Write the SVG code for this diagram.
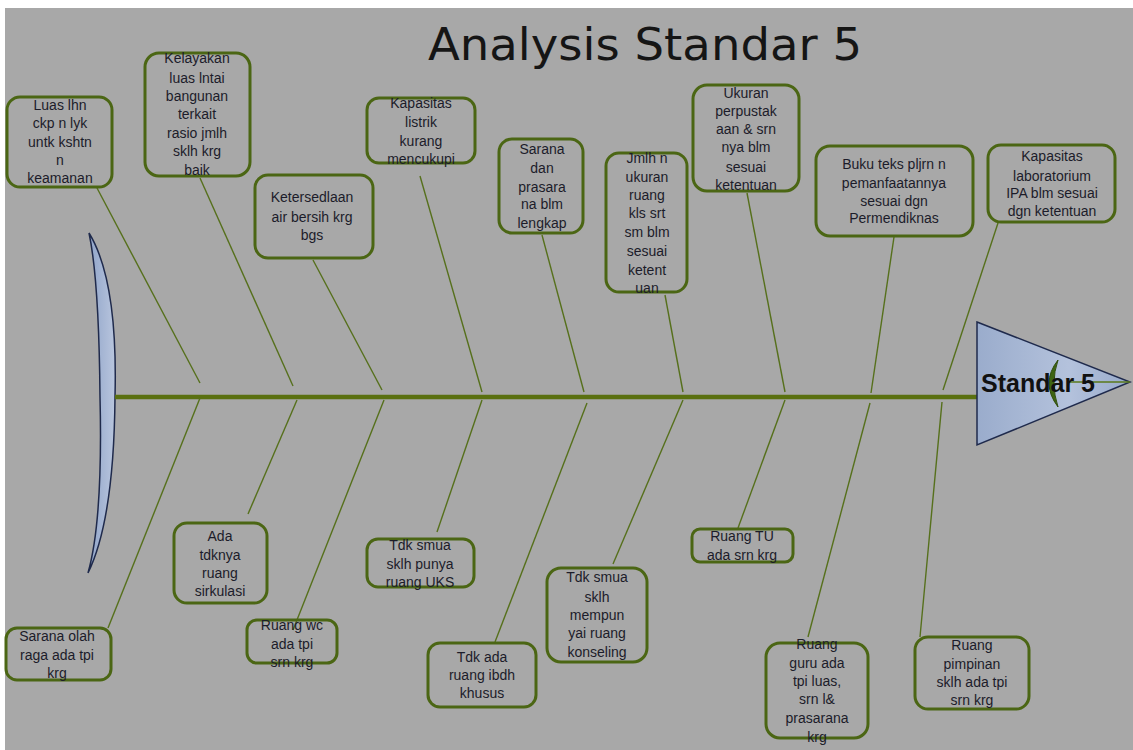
<svg xmlns="http://www.w3.org/2000/svg" width="1133" height="750" viewBox="0 0 1133 750">
<defs>
<style>
.box rect{fill:none;stroke:#4b6614;stroke-width:3}
.box text{font-family:"Liberation Sans",Arial,sans-serif;font-size:14px;fill:#1c1c2a;text-anchor:middle}
.conn line{stroke:#56701c;stroke-width:1.4}
</style>
<linearGradient id="blueG" x1="0" y1="0" x2="1" y2="0">
<stop offset="0" stop-color="#9aaccc"/><stop offset="0.6" stop-color="#b4c2dc"/><stop offset="1" stop-color="#98aacb"/>
</linearGradient>
<linearGradient id="tailG" x1="0" y1="0" x2="1" y2="0">
<stop offset="0" stop-color="#8fa3c8"/><stop offset="1" stop-color="#b9c6de"/>
</linearGradient>
</defs>
<rect width="1133" height="750" fill="#ffffff"/>
<rect x="5" y="8" width="1128" height="742" fill="#a8a8a8"/>
<text x="645" y="60" font-family="DejaVu Sans,sans-serif" font-size="44" fill="#151515" text-anchor="middle" textLength="434" lengthAdjust="spacingAndGlyphs">Analysis Standar 5</text>

<g id="tail">
<path d="M89,233 Q118,280 115,397 Q114,520 88,573 Q103,520 100,397 Q99,280 89,233 Z" fill="url(#tailG)" stroke="#1f2a4c" stroke-width="1.5"/>
</g>

<g id="connectors" class="conn">
<line x1="115" y1="397" x2="977" y2="397" style="stroke:#5a7010;stroke-width:4.5"/>
<line x1="97" y1="188" x2="200" y2="383"/>
<line x1="200" y1="178" x2="293" y2="386"/>
<line x1="313" y1="260" x2="382" y2="390"/>
<line x1="420" y1="176" x2="482" y2="392"/>
<line x1="542" y1="235" x2="584" y2="392"/>
<line x1="665" y1="295" x2="683" y2="392"/>
<line x1="747" y1="193" x2="785" y2="392"/>
<line x1="894" y1="237" x2="871" y2="393"/>
<line x1="998" y1="223" x2="943" y2="390"/>
<line x1="108" y1="628" x2="200" y2="398"/>
<line x1="248" y1="514" x2="297" y2="400"/>
<line x1="293" y1="630" x2="384" y2="400"/>
<line x1="437" y1="532" x2="482" y2="400"/>
<line x1="495" y1="642" x2="587" y2="403"/>
<line x1="613" y1="564" x2="683" y2="400"/>
<line x1="738" y1="528" x2="785" y2="400"/>
<line x1="808" y1="637" x2="870" y2="403"/>
<line x1="920" y1="637" x2="942" y2="402"/>
</g>

<g id="head">
<polygon points="977,322 1130,382 977,445" fill="url(#blueG)" stroke="#1f2a4c" stroke-width="1.5"/>
<line x1="1068" y1="382" x2="1130" y2="382" stroke="#5a7a1a" stroke-width="1.5"/>
<path d="M1058,360 Q1040,383 1058,407 Q1050,383 1058,360 Z" fill="#3e6412" stroke="#2f4d0c" stroke-width="1"/>
<text x="1038" y="392" font-family="Liberation Sans,Arial,sans-serif" font-size="25" font-weight="bold" fill="#111" text-anchor="middle">Standar 5</text>
</g>

<g id="n1" class="box"><rect x="7" y="97" width="105" height="90" rx="13"/>
<text x="60" y="110">Luas lhn</text><text x="60" y="128">ckp  n lyk</text><text x="60" y="147">untk kshtn</text><text x="60" y="165">n</text><text x="60" y="183">keamanan</text></g>

<g id="n2" class="box"><rect x="145" y="53" width="105" height="123" rx="14"/>
<text x="197" y="63">Kelayakan</text><text x="197" y="83">luas lntai</text><text x="197" y="101">bangunan</text><text x="197" y="119">terkait</text><text x="197" y="138">rasio jmlh</text><text x="197" y="156">sklh krg</text><text x="197" y="175">baik</text></g>

<g id="n3" class="box"><rect x="255" y="175" width="118" height="83" rx="13"/>
<text x="312" y="202">Ketersedlaan</text><text x="312" y="222">air bersih krg</text><text x="312" y="240">bgs</text></g>

<g id="n4" class="box"><rect x="367" y="98" width="108" height="65" rx="12"/>
<text x="421" y="108">Kapasitas</text><text x="421" y="127">listrik</text><text x="421" y="146">kurang</text><text x="421" y="164">mencukupi</text></g>

<g id="n5" class="box"><rect x="499" y="139" width="84" height="94" rx="13"/>
<text x="542" y="154">Sarana</text><text x="542" y="173">dan</text><text x="542" y="192">prasara</text><text x="542" y="209">na blm</text><text x="542" y="228">lengkap</text></g>

<g id="n6" class="box"><rect x="606" y="153" width="81" height="139" rx="13"/>
<text x="647" y="163">Jmlh n</text><text x="647" y="182">ukuran</text><text x="647" y="200">ruang</text><text x="647" y="218">kls srt</text><text x="647" y="237">sm blm</text><text x="647" y="256">sesuai</text><text x="647" y="275">ketent</text><text x="647" y="293">uan</text></g>

<g id="n7" class="box"><rect x="693" y="85" width="106" height="106" rx="14"/>
<text x="746" y="98">Ukuran</text><text x="746" y="116">perpustak</text><text x="746" y="134">aan &amp; srn</text><text x="746" y="152">nya blm</text><text x="746" y="172">sesuai</text><text x="746" y="190">ketentuan</text></g>

<g id="n8" class="box"><rect x="816" y="146" width="157" height="90" rx="14"/>
<text x="894" y="169">Buku teks pljrn n</text><text x="894" y="188">pemanfaatannya</text><text x="894" y="206">sesuai dgn</text><text x="894" y="223">Permendiknas</text></g>

<g id="n9" class="box"><rect x="988" y="145" width="127" height="77" rx="13"/>
<text x="1052" y="161">Kapasitas</text><text x="1052" y="181">laboratorium</text><text x="1052" y="198">IPA blm sesuai</text><text x="1052" y="216">dgn ketentuan</text></g>

<g id="n10" class="box"><rect x="6" y="628" width="105" height="52" rx="11"/>
<text x="57" y="641">Sarana olah</text><text x="57" y="660">raga ada tpi</text><text x="57" y="678">krg</text></g>

<g id="n11" class="box"><rect x="174" y="523" width="93" height="80" rx="13"/>
<text x="220" y="541">Ada</text><text x="220" y="560">tdknya</text><text x="220" y="578">ruang</text><text x="220" y="596">sirkulasi</text></g>

<g id="n12" class="box"><rect x="247" y="620" width="90" height="43" rx="10"/>
<text x="292" y="630">Ruang wc</text><text x="292" y="649">ada tpi</text><text x="292" y="667">srn krg</text></g>

<g id="n13" class="box"><rect x="367" y="539" width="107" height="48" rx="11"/>
<text x="420" y="550">Tdk smua</text><text x="420" y="569">sklh punya</text><text x="420" y="587">ruang UKS</text></g>

<g id="n14" class="box"><rect x="428" y="643" width="108" height="64" rx="12"/>
<text x="482" y="662">Tdk ada</text><text x="482" y="680">ruang ibdh</text><text x="482" y="698">khusus</text></g>

<g id="n15" class="box"><rect x="547" y="568" width="100" height="94" rx="14"/>
<text x="597" y="582">Tdk smua</text><text x="597" y="602">sklh</text><text x="597" y="620">mempun</text><text x="597" y="638">yai ruang</text><text x="597" y="657">konseling</text></g>

<g id="n16" class="box"><rect x="692" y="529" width="101" height="33" rx="8"/>
<text x="742" y="541">Ruang TU</text><text x="742" y="560">ada srn krg</text></g>

<g id="n17" class="box"><rect x="766" y="643" width="102" height="95" rx="14"/>
<text x="817" y="649">Ruang</text><text x="817" y="668">guru ada</text><text x="817" y="686">tpi luas,</text><text x="817" y="704">srn  l&amp;</text><text x="817" y="723">prasarana</text><text x="817" y="742">krg</text></g>

<g id="n18" class="box"><rect x="915" y="637" width="114" height="72" rx="13"/>
<text x="972" y="650">Ruang</text><text x="972" y="669">pimpinan</text><text x="972" y="687">sklh ada tpi</text><text x="972" y="705">srn krg</text></g>
</svg>
